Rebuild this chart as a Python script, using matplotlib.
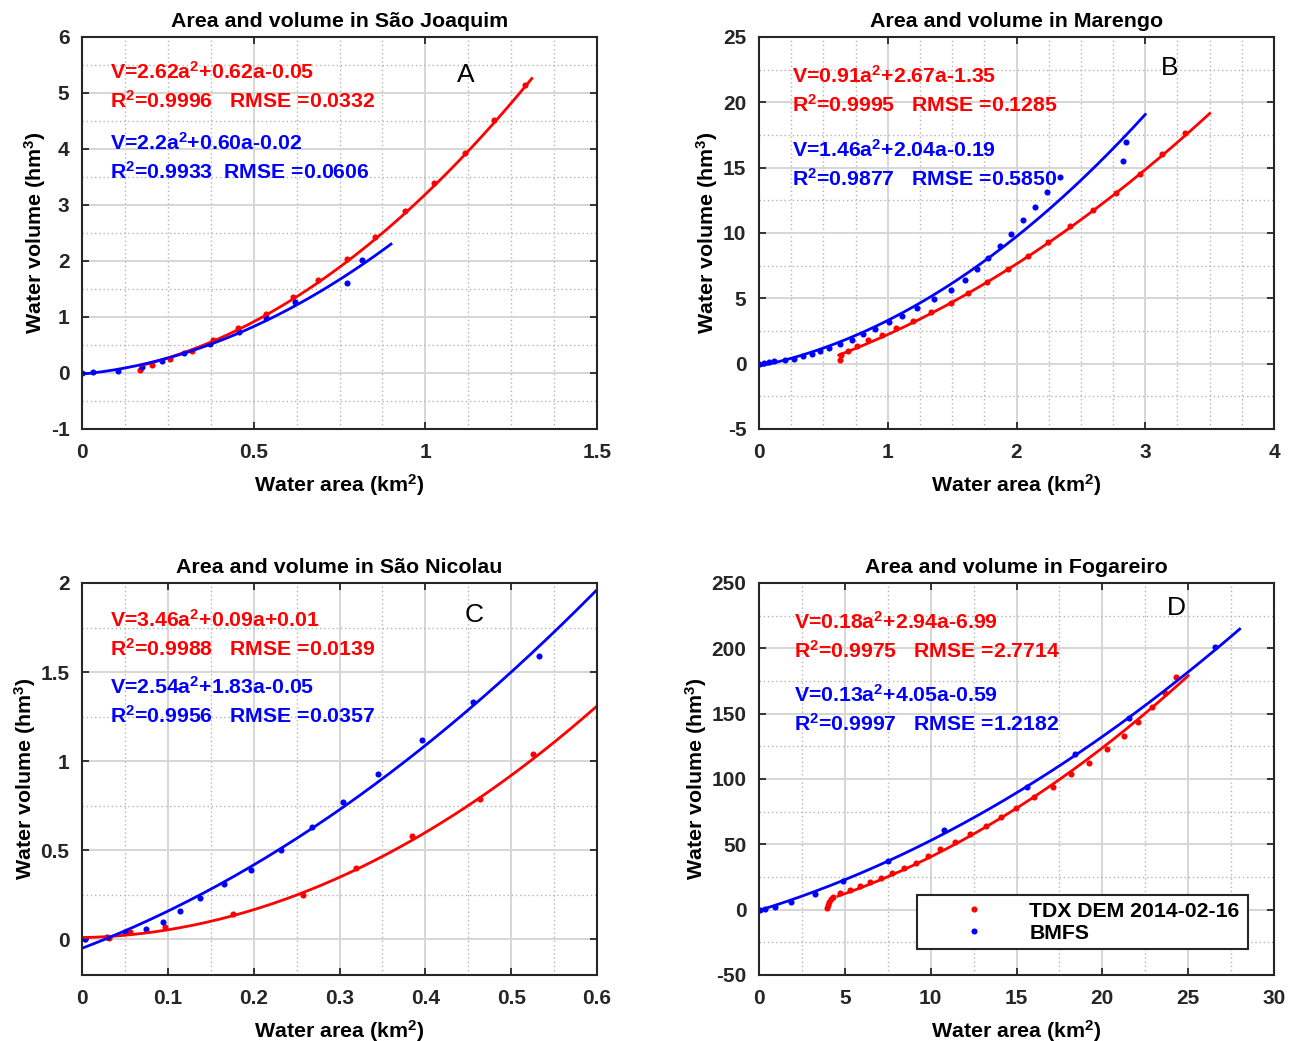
# area-volume curves for the four reservoirs, 2x2 panels

import numpy as np
import matplotlib.pyplot as plt
from matplotlib.ticker import MultipleLocator, FuncFormatter

plt.rcParams['font.family'] = ['Liberation Sans', 'DejaVu Sans']
plt.rcParams['font.weight'] = 'bold'
plt.rcParams['mathtext.fontset'] = 'custom'
plt.rcParams['mathtext.rm'] = 'Liberation Sans:bold'
plt.rcParams['mathtext.it'] = 'Liberation Sans:bold'
plt.rcParams['mathtext.bf'] = 'Liberation Sans:bold'
plt.rcParams['mathtext.default'] = 'rm'

RED = '#ff0000'
BLUE = '#0000ff'

# ---- data ----
# A: Sao Joaquim
a_tdx_x = [0.169, 0.203, 0.256, 0.319, 0.383, 0.455, 0.536, 0.616, 0.688, 0.771,
           0.852, 0.941, 1.026, 1.116, 1.201, 1.289]
a_tdx_y = [0.05, 0.14, 0.25, 0.40, 0.59, 0.80, 1.05, 1.35, 1.66, 2.03,
           2.43, 2.89, 3.39, 3.92, 4.51, 5.14]
a_bm_x = [0.0, 0.031, 0.104, 0.174, 0.232, 0.297, 0.373, 0.458, 0.536, 0.620, 0.771, 0.815]
a_bm_y = [0.0, 0.01, 0.04, 0.11, 0.21, 0.35, 0.52, 0.73, 0.99, 1.27, 1.60, 2.02]

# B: Marengo
b_tdx_x = [0.627, 0.64, 0.691, 0.763, 0.847, 0.958, 1.067, 1.196, 1.339, 1.489, 1.623,
           1.774, 1.934, 2.089, 2.245, 2.418, 2.594, 2.775, 2.957, 3.133, 3.306]
b_tdx_y = [0.31, 0.70, 0.99, 1.38, 1.79, 2.22, 2.73, 3.29, 3.93, 4.64, 5.41,
           6.25, 7.24, 8.21, 9.31, 10.51, 11.73, 13.06, 14.54, 16.05, 17.65]
b_bm_x = [0.0, 0.04, 0.08, 0.12, 0.20, 0.27, 0.34, 0.41, 0.47, 0.54, 0.63, 0.72, 0.81,
          0.90, 1.01, 1.11, 1.23, 1.36, 1.49, 1.60, 1.69, 1.78, 1.87, 1.96, 2.05,
          2.14, 2.24, 2.34, 2.83, 2.85]
b_bm_y = [0.0, 0.05, 0.10, 0.18, 0.25, 0.38, 0.56, 0.74, 0.94, 1.20, 1.50, 1.84, 2.27,
          2.65, 3.16, 3.67, 4.26, 4.95, 5.61, 6.38, 7.25, 8.06, 8.98, 9.95, 10.97,
          11.99, 13.11, 14.26, 15.48, 16.94]

# C: Sao Nicolau
c_tdx_x = [0.003, 0.031, 0.056, 0.097, 0.176, 0.258, 0.319, 0.384, 0.464, 0.526]
c_tdx_y = [0.0, 0.01, 0.04, 0.07, 0.14, 0.25, 0.40, 0.58, 0.79, 1.04]
c_bm_x = [0.003, 0.029, 0.050, 0.075, 0.094, 0.114, 0.137, 0.166, 0.197, 0.232,
          0.268, 0.304, 0.345, 0.396, 0.455, 0.532]
c_bm_y = [0.0, 0.015, 0.04, 0.06, 0.10, 0.16, 0.23, 0.31, 0.39, 0.50,
          0.63, 0.77, 0.93, 1.12, 1.33, 1.59]

# D: Fogareiro
d_tdx_x = [3.98, 4.02, 4.06, 4.2, 4.3, 4.7, 5.28, 5.86, 6.45, 7.09, 7.77, 8.45, 9.13,
           9.84, 10.56, 11.44, 12.27, 13.2, 14.11, 14.99, 16.0, 17.12, 18.15, 19.22,
           20.29, 21.24, 22.08, 22.9, 23.66, 24.3]
d_tdx_y = [1.1, 3.6, 6.0, 8.0, 10.0, 12.5, 15.0, 18.0, 21.0, 24.0, 27.8, 31.7, 36.0,
           41.0, 46.2, 51.6, 58.0, 64.0, 70.7, 78.0, 86.0, 94.0, 103.6, 112.5,
           122.7, 133.2, 143.9, 154.9, 166.0, 178.3]
d_bm_x = [0.04, 0.33, 0.95, 1.85, 3.24, 4.89, 7.51, 10.76, 15.63, 18.43, 21.55, 26.54]
d_bm_y = [0.0, 0.3, 2.3, 5.6, 12.0, 22.0, 37.5, 61.0, 94.0, 119.0, 146.5, 200.8]

# fitted polynomials (as printed) and the x range of each fit line
fits = {
    'A': ([2.62, 0.62, -0.05], (0.17, 1.31), [2.2, 0.60, -0.02], (0.0, 0.9)),
    'B': ([0.91, 2.67, -1.35], (0.62, 3.5), [1.46, 2.04, -0.19], (0.0, 3.0)),
    'C': ([3.46, 0.09, 0.01], (0.0, 0.6), [2.54, 1.83, -0.05], (0.0, 0.6)),
    'D': ([0.18, 2.94, -6.99], (4.6, 25.0), [0.13, 4.05, -0.59], (0.0, 28.0)),
}

eqs = {
    'A': ['V=2.62a$^2$+0.62a-0.05', 'R$^2$=0.9996   RMSE =0.0332',
          'V=2.2a$^2$+0.60a-0.02', 'R$^2$=0.9933  RMSE =0.0606'],
    'B': ['V=0.91a$^2$+2.67a-1.35', 'R$^2$=0.9995   RMSE =0.1285',
          'V=1.46a$^2$+2.04a-0.19', 'R$^2$=0.9877   RMSE =0.5850'],
    'C': ['V=3.46a$^2$+0.09a+0.01', 'R$^2$=0.9988   RMSE =0.0139',
          'V=2.54a$^2$+1.83a-0.05', 'R$^2$=0.9956   RMSE =0.0357'],
    'D': ['V=0.18a$^2$+2.94a-6.99', 'R$^2$=0.9975   RMSE =2.7714',
          'V=0.13a$^2$+4.05a-0.59', 'R$^2$=0.9997   RMSE =1.2182'],
}

titles = {
    'A': 'Area and volume in São Joaquim',
    'B': 'Area and volume in Marengo',
    'C': 'Area and volume in São Nicolau',
    'D': 'Area and volume in Fogareiro',
}

# (xlim, ylim, x major, x minor, y major, y minor)
limits = {
    'A': ((0, 1.5), (-1, 6), 0.5, 0.125, 1, 0.5),
    'B': ((0, 4), (-5, 25), 1, 0.25, 5, 2.5),
    'C': ((0, 0.6), (-0.2, 2), 0.1, 0.05, 0.5, 0.25),
    'D': ((0, 30), (-50, 250), 5, 2.5, 50, 25),
}

# text positions in axes fraction: eq x, eq rows y, letter x, letter y
txtpos = {
    'A': (0.054, [0.911, 0.837, 0.730, 0.656], 0.746, 0.903),
    'B': (0.064, [0.901, 0.827, 0.712, 0.638], 0.798, 0.921),
    'C': (0.054, [0.906, 0.832, 0.735, 0.661], 0.761, 0.918),
    'D': (0.068, [0.901, 0.827, 0.714, 0.640], 0.810, 0.936),
}

data = {
    'A': (a_tdx_x, a_tdx_y, a_bm_x, a_bm_y),
    'B': (b_tdx_x, b_tdx_y, b_bm_x, b_bm_y),
    'C': (c_tdx_x, c_tdx_y, c_bm_x, c_bm_y),
    'D': (d_tdx_x, d_tdx_y, d_bm_x, d_bm_y),
}

# axes boxes in figure fraction
W = 515 / 1297
H = 392 / 1041
boxes = {
    'A': (82 / 1297, 1 - 429 / 1041),
    'B': (759 / 1297, 1 - 429 / 1041),
    'C': (82 / 1297, 1 - 975 / 1041),
    'D': (759 / 1297, 1 - 975 / 1041),
}

# matlab style tick labels: 0, 0.5, 1, -1
fmt = FuncFormatter(lambda v, pos: '%g' % round(v, 6))

fig = plt.figure(figsize=(12.97, 10.41), dpi=100)

for key in ['A', 'B', 'C', 'D']:
    left, bottom = boxes[key]
    ax = fig.add_axes([left, bottom, W, H])
    xlim, ylim, xmaj, xmin, ymaj, ymin = limits[key]

    # grid first so it sits under the data
    ax.set_axisbelow(True)
    ax.xaxis.set_major_locator(MultipleLocator(xmaj))
    ax.yaxis.set_major_locator(MultipleLocator(ymaj))
    ax.xaxis.set_minor_locator(MultipleLocator(xmin))
    ax.yaxis.set_minor_locator(MultipleLocator(ymin))
    ax.xaxis.set_major_formatter(fmt)
    ax.yaxis.set_major_formatter(fmt)
    ax.grid(which='major', color='#d6d6d6', linestyle='-', linewidth=1.4)
    ax.grid(which='minor', color='#b4b4b4', linestyle=(0, (1, 2)), linewidth=1.0)

    tx, ty, bx, by = data[key]
    ax.plot(tx, ty, 'o', color=RED, ms=4.4, mec='none', label='TDX DEM 2014-02-16')
    ax.plot(bx, by, 'o', color=BLUE, ms=4.4, mec='none', label='BMFS')

    pr, rr, pb, rb = fits[key]
    xs = np.linspace(rr[0], rr[1], 200)
    ax.plot(xs, np.polyval(pr, xs), color=RED, lw=2.0)
    xs = np.linspace(rb[0], rb[1], 200)
    ax.plot(xs, np.polyval(pb, xs), color=BLUE, lw=2.0)

    ax.set_xlim(*xlim)
    ax.set_ylim(*ylim)

    ax.tick_params(which='major', direction='in', length=5, width=1.3,
                   top=True, right=True, labelsize=15, pad=10, colors='#262626')
    ax.tick_params(axis='y', which='major', pad=9)
    ax.tick_params(which='minor', length=0, top=True, right=True)
    for lab in ax.get_xticklabels() + ax.get_yticklabels():
        lab.set_fontweight('bold')
    for s in ax.spines.values():
        s.set_linewidth(1.5)
        s.set_color('#262626')

    ax.set_xlabel('Water area (km$^2$)', fontsize=15.4, fontweight='bold', labelpad=7)
    ax.set_ylabel('Water volume (hm$^3$)', fontsize=15.4, fontweight='bold', labelpad=2)
    ax.set_title(titles[key], fontsize=15.4, fontweight='bold', pad=7.5)

    ex, rows, lx, ly = txtpos[key]
    cols = [RED, RED, BLUE, BLUE]
    for s, yy, c in zip(eqs[key], rows, cols):
        ax.text(ex, yy, s, transform=ax.transAxes, color=c, fontsize=15.3,
                fontweight='bold', va='center', ha='left')
    ax.text(lx, ly, key, transform=ax.transAxes, fontsize=19, fontweight='normal',
            va='center', ha='center')

    if key == 'D':
        leg = ax.legend(loc='lower left', bbox_to_anchor=(0.306, 0.066, 0.643, 0.158),
                        mode='expand', fontsize=15.3, handlelength=4.8,
                        handletextpad=0.2, labelspacing=0.15, borderpad=0.3,
                        borderaxespad=0, fancybox=False, framealpha=1,
                        edgecolor='#262626')
        leg.get_frame().set_linewidth(1.5)
        for t in leg.get_texts():
            t.set_fontweight('bold')

fig.savefig('out.png', dpi=100)
